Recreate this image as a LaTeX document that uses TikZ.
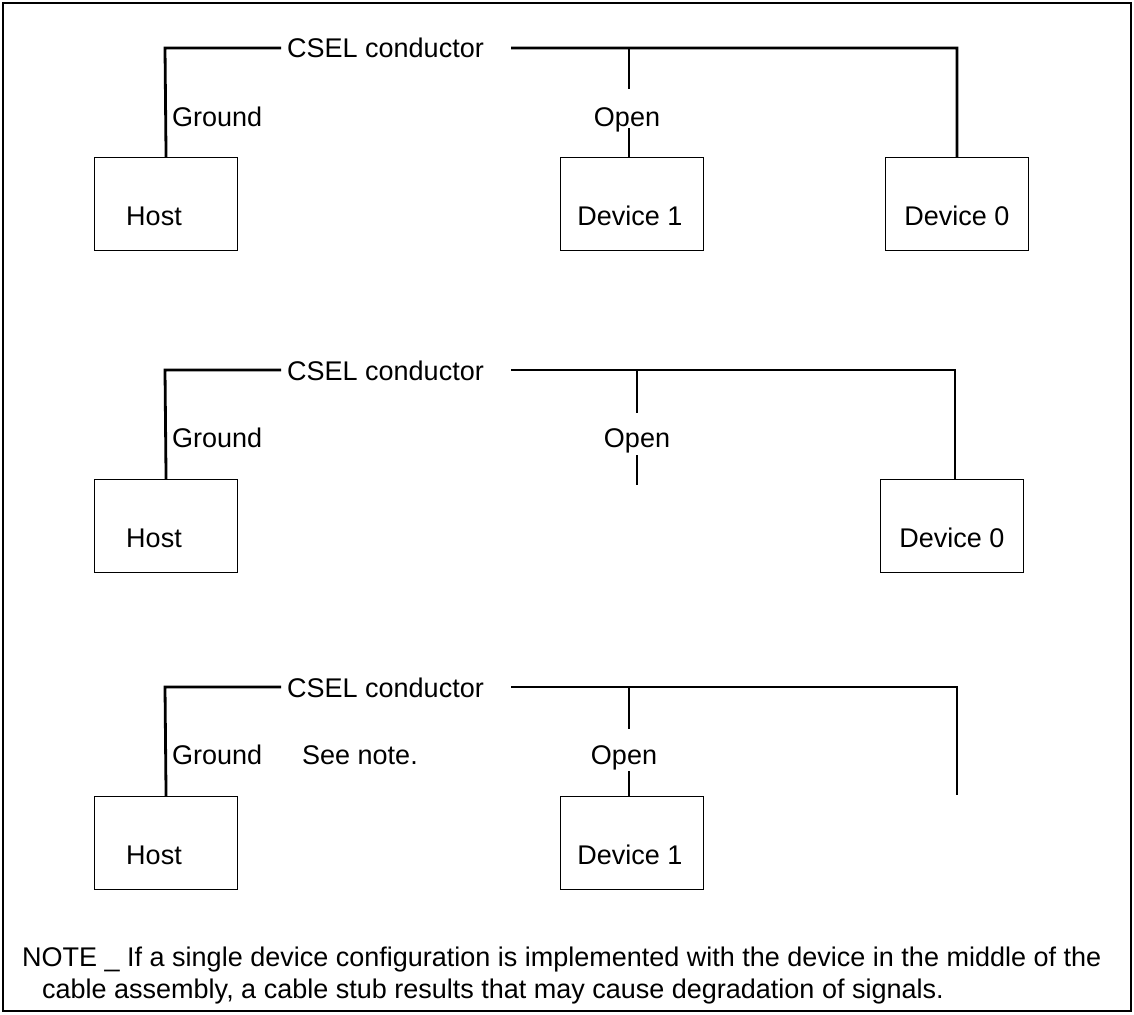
\documentclass[tikz,border=0pt]{standalone}
\usepackage{fontspec}
\setmainfont{Liberation Sans}
\begin{document}
\begin{tikzpicture}[x=1pt,y=-1pt,
  box/.style={draw, line width=1.1pt, minimum width=143pt, minimum height=93pt, inner sep=0pt, anchor=north west},
  wire/.style={line width=2.8pt},
  lbl/.style={font=\fontsize{27}{32}\selectfont, inner sep=0pt, anchor=base},
  lblw/.style={lbl, anchor=base west}]
\path[use as bounding box] (0,0) rectangle (1134,1014);
\draw[line width=1.5pt] (3,3) rectangle (1131,1011);

% ---------- Section 1 ----------
\node[box] (h1) at (94,157) {};
\node[box] (da1) at (560,157) {};
\node[box] (db1) at (885,157) {};
\node[lbl] (th1) at (154,225) {Host};
\node[lbl] (tda1) at (630,225) {Device 1};
\node[lbl] (tdb1) at (957,225) {Device 0};
\node[lblw] (c1) at (287,58) {CSEL conductor};
\node[lblw] (g1) at (172,126) {Ground};
\node[lbl] (o1) at (627,126) {Open};
\coordinate (hl1) at (165,48);
\coordinate (cs1) at (511,48);
\coordinate (r1) at (957,48);
\coordinate (ot1) at (629,48);
\coordinate (ob1) at (629,89);
\coordinate (oc1) at (629,128);
\draw[wire] (h1.north) -- (hl1) -- ([xshift=-6pt]c1.west |- hl1);
\draw[wire] (cs1) -- (r1) -- (db1.north);
\draw[wire] (ot1) -- (ob1);
\draw[wire] (oc1) -- (oc1 |- da1.north);

% ---------- Section 2 ----------
\node[box] (h2) at (94,479) {};
\node[box] (db2) at (880,479) {};
\node[lbl] (th2) at (154,547) {Host};
\node[lbl] (tdb2) at (952,547) {Device 0};
\node[lblw] (c2) at (287,380) {CSEL conductor};
\node[lblw] (g2) at (172,447) {Ground};
\node[lbl] (o2) at (637,447) {Open};
\coordinate (hl2) at (165,370);
\coordinate (cs2) at (511,370);
\coordinate (r2) at (955,370);
\coordinate (ot2) at (637,370);
\coordinate (ob2) at (637,413);
\coordinate (oc2) at (637,455);
\coordinate (oe2) at (637,485);
\draw[wire] (h2.north) -- (hl2) -- ([xshift=-6pt]c2.west |- hl2);
\draw[wire] (cs2) -- (r2) -- (r2 |- db2.north);
\draw[wire] (ot2) -- (ob2);
\draw[wire] (oc2) -- (oe2);

% ---------- Section 3 ----------
\node[box] (h3) at (94,796) {};
\node[box] (da3) at (560,796) {};
\node[lbl] (th3) at (154,864) {Host};
\node[lbl] (tda3) at (630,864) {Device 1};
\node[lblw] (c3) at (287,697) {CSEL conductor};
\node[lblw] (g3) at (172,764) {Ground};
\node[lblw] (sn3) at (302,764) {See note.};
\node[lbl] (o3) at (624,764) {Open};
\coordinate (hl3) at (165,687);
\coordinate (cs3) at (511,687);
\coordinate (r3) at (957,687);
\coordinate (re3) at (957,795);
\coordinate (ot3) at (629,687);
\coordinate (ob3) at (629,729);
\coordinate (oc3) at (629,771);
\draw[wire] (h3.north) -- (hl3) -- ([xshift=-6pt]c3.west |- hl3);
\draw[wire] (cs3) -- (r3) -- (re3);
\draw[wire] (ot3) -- (ob3);
\draw[wire] (oc3) -- (oc3 |- da3.north);

% ---------- Note ----------
\node[lblw] (n1) at (22,966) {NOTE \textunderscore\ If a single device configuration is implemented with the device in the middle of the};
\node[lblw] (n2) at (42,998) {cable assembly, a cable stub results that may cause degradation of signals.};
\end{tikzpicture}
\end{document}
